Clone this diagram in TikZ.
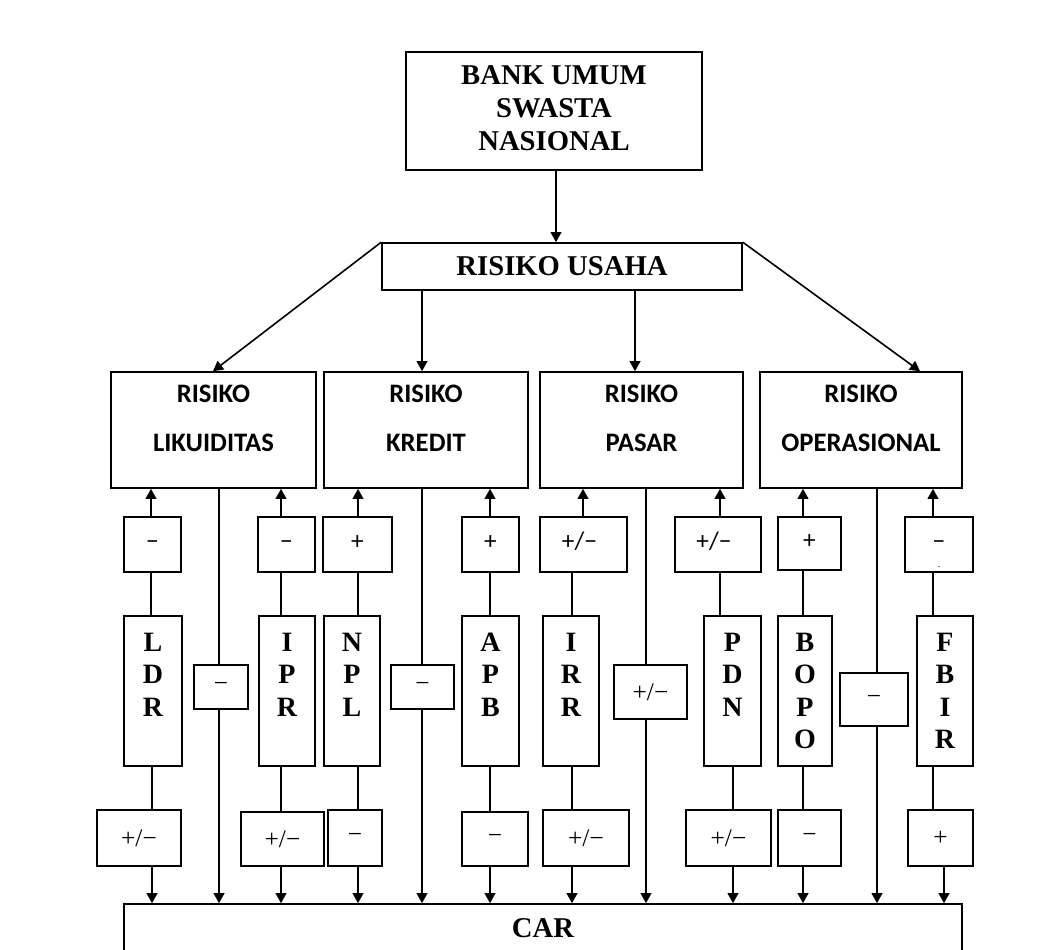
\documentclass[tikz,border=0pt]{standalone}
\usepackage{fontspec}
\setmainfont{Liberation Serif}
\newfontfamily\sansfnt{Carlito}
\usetikzlibrary{arrows.meta}
\newcommand\bx[7]{\node[bx,#6,minimum width={(#4-#2)*0.75pt},minimum height={(#5-#3)*0.75pt}] (#1) at ({(#2+#4)/2},{(#3+#5)/2}) {#7};}
\newcommand\colm[8]{%
  \draw[arr] (#1.north -| #5,0) -- (#4.south -| #5,0);
  \draw (#2.north -| #6,0) -- (#1.south -| #6,0);
  \draw (#2.south -| #7,0) -- (#3.north -| #7,0);
  \draw[arr] (#3.south -| #8,0) -- (car.north -| #8,0);}
\newcommand\midc[3]{%
  \draw (#2.south -| #3,0) -- (#1.north -| #3,0);
  \draw[arr] (#1.south -| #3,0) -- (car.north -| #3,0);}
\begin{document}
\begin{tikzpicture}[x=0.75pt,y=-0.75pt,line width=1.2pt,
  bx/.style={draw,inner sep=0pt,align=center},
  arr/.style={-{Triangle[length=7.5pt,width=8pt]}},
  big/.style={font=\fontsize{21.5}{25}\selectfont\bfseries},
  risk/.style={inner sep=0pt,align=center,font=\sansfnt\fontsize{20}{37}\selectfont\bfseries},
  su/.style={font=\sansfnt\fontsize{19}{20}\selectfont},
  sl/.style={font=\fontsize{19}{20}\selectfont},
  vr/.style={font=\fontsize{21}{24.4}\selectfont\bfseries}]
\useasboundingbox (0,0) rectangle (1051,950);
\clip (0,0) rectangle (1051,950);
\fill[white] (0,0) rectangle (1051,950);

% top
\bx{bank}{406}{52}{702}{170}{big}{BANK UMUM\\SWASTA\\NASIONAL\\[-20.5pt]\mbox{}}
\bx{usaha}{382}{243}{742}{290}{big}{RISIKO USAHA}

% risk boxes
\bx{lik}{111}{372}{316}{488}{}{}
\bx{kred}{324}{372}{528}{488}{}{}
\bx{pas}{540}{372}{743}{488}{}{}
\bx{ops}{760}{372}{962}{488}{}{}
\node[risk] (likT) at (213.5,418.5) {RISIKO\\LIKUIDITAS};
\node[risk] (kredT) at (426,418.5) {RISIKO\\KREDIT};
\node[risk] (pasT) at (641.5,418.5) {RISIKO\\PASAR};
\node[risk] (opsT) at (861,418.5) {RISIKO\\OPERASIONAL};

% upper sign boxes
\bx{uLDR}{124}{517}{181}{572}{su}{\strut−}
\bx{uIPR}{258}{517}{315}{572}{su}{\strut−}
\bx{uNPL}{323}{517}{392}{572}{su}{\strut+}
\bx{uAPB}{462}{517}{519}{572}{su}{\strut+}
\bx{uIRR}{540}{517}{627}{572}{su}{\strut+/−\hspace{6pt}}
\bx{uPDN}{675}{517}{761}{572}{su}{\strut+/−\hspace{6pt}}
\bx{uBOPO}{778}{517}{841}{570}{su}{\strut+}
\bx{uFBIR}{905}{517}{973}{572}{su}{\strut\makebox[0pt]{−}\makebox[0pt]{\smash{\raisebox{-15pt}{\fontsize{6}{6}\selectfont -}}}}

% variable boxes
\bx{LDR}{124}{616}{182}{766}{vr}{L\\D\\R\\\phantom{R}}
\bx{IPR}{259}{616}{315}{766}{vr}{I\\P\\R\\\phantom{R}}
\bx{NPL}{324}{616}{380}{766}{vr}{N\\P\\L\\\phantom{R}}
\bx{APB}{462}{616}{519}{766}{vr}{A\\P\\B\\\phantom{R}}
\bx{IRR}{543}{616}{599}{766}{vr}{I\\R\\R\\\phantom{R}}
\bx{PDN}{704}{616}{761}{766}{vr}{P\\D\\N\\\phantom{R}}
\bx{BOPO}{778}{616}{832}{766}{vr}{B\\O\\P\\O}
\bx{FBIR}{917}{616}{973}{766}{vr}{F\\B\\I\\R}

% middle sign boxes
\bx{mLik}{194}{665}{248}{709}{sl}{−}
\bx{mKred}{391}{665}{454}{709}{sl}{−}
\bx{mPas}{614}{665}{687}{719}{sl}{+/−}
\bx{mOps}{840}{673}{908}{726}{sl}{−}

% lower sign boxes
\bx{lLDR}{97}{810}{181}{866}{sl}{+/−}
\bx{lIPR}{241}{812}{324}{866}{sl}{+/−}
\bx{lNPL}{328}{810}{382}{866}{sl}{−}
\bx{lAPB}{462}{812}{528}{866}{sl}{−}
\bx{lIRR}{543}{810}{629}{866}{sl}{+/−}
\bx{lPDN}{686}{810}{771}{866}{sl}{+/−}
\bx{lBOPO}{778}{810}{841}{866}{sl}{−}
\bx{lFBIR}{908}{810}{973}{866}{sl}{+}

% CAR
\bx{car}{124}{904}{962}{952}{big}{CAR}

% connectors top
\draw[arr] (bank.south -| 556,0) -- (usaha.north -| 556,0);
\draw[arr] (usaha.north west) -- (lik.north -| 213,0);
\draw[arr] (usaha.south -| 422,0) -- (kred.north -| 422,0);
\draw[arr] (usaha.south -| 635,0) -- (pas.north -| 635,0);
\draw[arr] (usaha.north east) -- (ops.north -| 920,0);

% columns
\colm{uLDR}{LDR}{lLDR}{lik}{151}{151}{152}{152}
\colm{uIPR}{IPR}{lIPR}{lik}{281}{281}{281}{281}
\colm{uNPL}{NPL}{lNPL}{kred}{358}{358}{358}{358}
\colm{uAPB}{APB}{lAPB}{kred}{490}{490}{490}{490}
\colm{uIRR}{IRR}{lIRR}{pas}{583}{572}{572}{572}
\colm{uPDN}{PDN}{lPDN}{pas}{720}{720}{733}{733}
\colm{uBOPO}{BOPO}{lBOPO}{ops}{803}{803}{803}{803}
\colm{uFBIR}{FBIR}{lFBIR}{ops}{933}{933}{933}{944}

\midc{mLik}{lik}{219}
\midc{mKred}{kred}{422}
\midc{mPas}{pas}{646}
\midc{mOps}{ops}{877}
\end{tikzpicture}
\end{document}
